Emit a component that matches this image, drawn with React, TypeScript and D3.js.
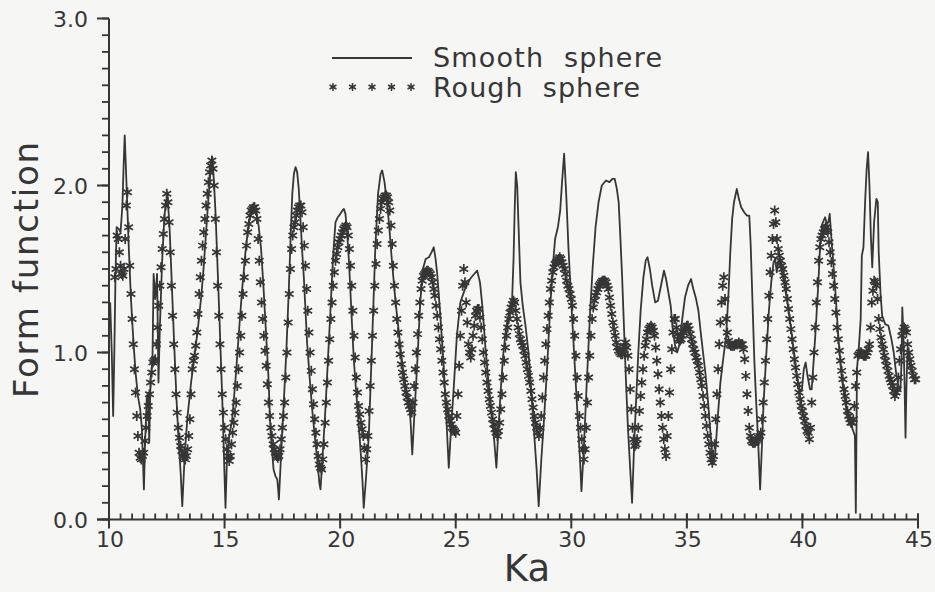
import React from "react";
import * as d3 from "d3";

// ---- data ----
const KA_TICKS = [10, 15, 20, 25, 30, 35, 40, 45];
const FF_TICKS = [0, 1, 2, 3];
const FF_TICK_LABELS = ["0.0", "1.0", "2.0", "3.0"];
const SERIES_NAMES = ["Smooth  sphere", "Rough  sphere"];

// Smooth sphere: [Ka, form function]
const smoothSphere: [number, number][] = [
  [10.05,1.30],[10.12,1.00],[10.18,0.62],[10.23,1.00],[10.28,1.45],[10.33,1.75],[10.42,1.74],[10.50,1.72],[10.58,1.88],[10.64,2.15],
  [10.68,2.30],[10.72,2.15],[10.78,1.92],[10.85,1.65],[10.95,1.32],[11.05,1.08],[11.15,0.88],[11.25,0.74],[11.35,0.66],[11.42,0.55],
  [11.47,0.35],[11.51,0.18],[11.56,0.45],[11.63,0.72],[11.69,0.76],[11.74,0.46],[11.80,0.85],[11.88,0.95],[11.93,1.47],[12.00,1.32],
  [12.08,1.47],[12.14,0.82],[12.20,1.15],[12.30,1.55],[12.40,1.82],[12.52,1.96],[12.62,1.75],[12.72,1.40],[12.82,1.05],[12.92,0.72],
  [13.02,0.45],[13.10,0.28],[13.17,0.08],[13.28,0.40],[13.40,0.62],[13.55,0.82],[13.70,0.98],[13.85,1.15],[14.00,1.35],[14.10,1.52],
  [14.20,1.72],[14.30,1.92],[14.40,2.10],[14.47,2.17],[14.55,2.00],[14.62,1.80],[14.70,1.50],[14.78,1.20],[14.86,0.88],[14.93,0.60],
  [14.99,0.30],[15.04,0.07],[15.10,0.35],[15.20,0.50],[15.33,0.60],[15.48,0.85],[15.62,1.12],[15.76,1.38],[15.91,1.61],[16.05,1.78],
  [16.15,1.85],[16.27,1.88],[16.38,1.85],[16.48,1.75],[16.58,1.62],[16.68,1.40],[16.78,1.15],[16.90,0.85],[16.98,0.55],[17.05,0.42],
  [17.12,0.30],[17.20,0.26],[17.28,0.24],[17.32,0.18],[17.35,0.12],[17.45,0.40],[17.56,0.70],[17.67,1.00],[17.78,1.38],[17.86,1.70],
  [17.93,1.95],[18.00,2.07],[18.07,2.11],[18.14,2.08],[18.21,1.98],[18.29,1.78],[18.36,1.60],[18.43,1.45],[18.57,1.06],[18.68,0.85],
  [18.79,0.66],[18.90,0.50],[19.01,0.36],[19.10,0.22],[19.15,0.18],[19.25,0.40],[19.37,0.68],[19.48,0.98],[19.58,1.25],[19.66,1.48],
  [19.73,1.65],[19.80,1.78],[19.90,1.81],[20.01,1.83],[20.10,1.85],[20.16,1.86],[20.23,1.83],[20.30,1.72],[20.38,1.55],[20.45,1.35],
  [20.52,1.15],[20.59,0.96],[20.70,0.75],[20.81,0.56],[20.90,0.38],[20.97,0.22],[21.02,0.07],[21.12,0.25],[21.24,0.50],[21.38,1.05],
  [21.52,1.62],[21.64,1.95],[21.75,2.07],[21.82,2.09],[21.92,2.02],[22.02,1.90],[22.11,1.78],[22.25,1.53],[22.40,1.30],[22.54,1.12],
  [22.70,0.92],[22.83,0.80],[22.97,0.72],[23.05,0.58],[23.12,0.39],[23.22,0.65],[23.33,0.92],[23.47,1.31],[23.58,1.50],[23.70,1.56],
  [23.84,1.57],[23.95,1.60],[24.05,1.63],[24.12,1.57],[24.20,1.47],[24.34,1.21],[24.48,0.92],[24.59,0.62],[24.70,0.31],[24.80,0.55],
  [24.92,0.80],[25.05,1.10],[25.20,1.30],[25.40,1.38],[25.62,1.44],[25.80,1.47],[25.93,1.49],[26.05,1.42],[26.15,1.28],[26.28,1.04],
  [26.40,0.85],[26.52,0.68],[26.65,0.50],[26.76,0.31],[26.85,0.55],[26.95,0.78],[27.05,0.98],[27.18,1.15],[27.32,1.25],[27.44,1.32],
  [27.50,1.55],[27.55,1.85],[27.60,2.08],[27.66,2.00],[27.72,1.75],[27.80,1.42],[27.90,1.28],[28.02,1.16],[28.15,1.00],[28.28,0.75],
  [28.40,0.50],[28.50,0.30],[28.59,0.08],[28.70,0.35],[28.82,0.60],[28.95,0.90],[29.08,1.25],[29.18,1.48],[29.30,1.68],[29.42,1.75],
  [29.52,1.85],[29.60,2.02],[29.69,2.19],[29.78,1.95],[29.88,1.62],[29.98,1.35],[30.10,1.05],[30.20,0.80],[30.30,0.55],[30.38,0.35],
  [30.44,0.17],[30.55,0.45],[30.68,0.85],[30.80,1.20],[30.92,1.50],[31.05,1.75],[31.18,1.90],[31.32,2.00],[31.50,2.03],[31.65,2.02],
  [31.78,2.04],[31.88,2.04],[31.97,1.98],[32.05,1.90],[32.12,1.70],[32.20,1.45],[32.28,1.15],[32.36,0.85],[32.45,0.55],[32.55,0.30],
  [32.63,0.10],[32.72,0.45],[32.80,0.70],[32.90,1.00],[33.00,1.25],[33.12,1.45],[33.22,1.55],[33.30,1.57],[33.40,1.50],[33.50,1.40],
  [33.63,1.30],[33.75,1.31],[33.88,1.40],[34.01,1.49],[34.10,1.44],[34.20,1.36],[34.30,1.28],[34.38,1.15],[34.48,1.05],[34.58,1.00],
  [34.68,1.05],[34.80,1.20],[34.92,1.33],[35.05,1.40],[35.18,1.44],[35.28,1.38],[35.40,1.32],[35.50,1.25],[35.60,1.12],[35.70,1.00],
  [35.80,0.88],[35.92,0.70],[36.02,0.52],[36.14,0.33],[36.22,0.38],[36.32,0.58],[36.45,0.82],[36.58,0.97],[36.70,1.10],[36.80,1.35],
  [36.88,1.60],[36.96,1.80],[37.04,1.90],[37.16,1.98],[37.25,1.92],[37.35,1.87],[37.48,1.84],[37.60,1.82],[37.70,1.82],[37.76,1.65],
  [37.84,1.30],[37.92,0.95],[38.00,0.70],[38.08,0.48],[38.17,0.18],[38.25,0.45],[38.32,0.70],[38.45,1.02],[38.55,1.25],[38.65,1.42],
  [38.75,1.54],[38.82,1.56],[38.89,1.48],[38.96,1.55],[39.05,1.52],[39.20,1.42],[39.35,1.30],[39.50,1.15],[39.62,1.02],[39.76,0.86],
  [39.90,0.77],[39.98,0.78],[40.06,0.90],[40.14,0.94],[40.22,0.86],[40.33,0.78],[40.40,0.78],[40.50,0.98],[40.60,1.20],[40.69,1.42],
  [40.77,1.65],[40.86,1.77],[40.98,1.81],[41.06,1.77],[41.12,1.78],[41.18,1.83],[41.27,1.65],[41.41,1.40],[41.56,1.08],[41.70,0.85],
  [41.85,0.70],[42.00,0.58],[42.15,0.55],[42.27,0.50],[42.31,0.04],[42.36,0.90],[42.45,1.05],[42.52,1.20],[42.57,1.58],[42.64,1.63],
  [42.72,1.93],[42.78,2.10],[42.84,2.20],[42.90,2.00],[42.96,1.70],[43.02,1.51],[43.10,1.78],[43.20,1.92],[43.26,1.90],[43.30,1.60],
  [43.38,1.35],[43.45,1.22],[43.58,1.17],[43.72,1.16],[43.85,1.08],[43.95,1.00],[44.05,0.88],[44.15,0.80],[44.24,0.78],[44.29,0.95],
  [44.32,1.27],[44.37,1.10],[44.42,0.80],[44.46,0.49],[44.50,0.80],[44.55,1.02],[44.65,0.92],[44.80,0.86],[44.92,0.86],
];

// Rough sphere: sampled every 0.05 in Ka, starting at Ka = 10.25
const roughKaStart = 10.25;
const roughKaStep = 0.05;
const roughSphere: number[] = [
  /*10*/ 1.45,1.50,1.70,1.68,1.60,1.52,1.47,1.46,1.50,1.68,1.88,1.96,1.75,1.52,1.35,
  /*11*/ 1.20,1.05,0.90,0.76,0.62,0.50,0.40,0.37,0.36,0.38,0.40,0.47,0.55,0.62,0.68,0.75,0.82,0.88,0.94,0.95,
  /*12*/ 0.96,1.05,1.15,1.28,1.40,1.51,1.62,1.71,1.80,1.88,1.95,1.90,1.78,1.60,1.40,1.22,1.05,0.90,0.75,0.64,
  /*13*/ 0.55,0.49,0.44,0.41,0.38,0.37,0.36,0.38,0.42,0.50,0.60,0.75,0.90,0.95,0.98,1.04,1.12,1.23,1.35,1.45,
  /*14*/ 1.55,1.64,1.72,1.80,1.88,1.95,2.02,2.08,2.12,2.15,2.10,2.00,1.80,1.60,1.40,1.22,1.05,0.90,0.75,0.64,
  /*15*/ 0.55,0.48,0.42,0.38,0.35,0.38,0.45,0.52,0.58,0.64,0.70,0.80,0.90,1.00,1.10,1.22,1.35,1.45,1.55,1.64,
  /*16*/ 1.72,1.77,1.82,1.85,1.86,1.87,1.87,1.85,1.80,1.68,1.55,1.42,1.30,1.20,1.10,1.01,0.92,0.81,0.70,0.62,
  /*17*/ 0.55,0.50,0.45,0.42,0.40,0.38,0.37,0.38,0.42,0.48,0.55,0.62,0.70,0.85,1.00,1.18,1.35,1.50,1.62,1.70,
  /*18*/ 1.75,1.78,1.82,1.85,1.87,1.88,1.88,1.84,1.75,1.64,1.52,1.38,1.25,1.12,1.00,0.89,0.78,0.69,0.60,0.52,
  /*19*/ 0.45,0.38,0.33,0.31,0.30,0.36,0.45,0.58,0.70,0.82,0.95,1.08,1.20,1.30,1.40,1.48,1.55,1.59,1.63,1.66,
  /*20*/ 1.68,1.70,1.72,1.74,1.75,1.76,1.75,1.70,1.62,1.52,1.40,1.25,1.10,0.97,0.85,0.76,0.68,0.63,0.58,0.54,
  /*21*/ 0.50,0.43,0.36,0.42,0.50,0.65,0.80,0.95,1.10,1.25,1.40,1.53,1.65,1.73,1.80,1.86,1.90,1.92,1.93,1.94,
  /*22*/ 1.94,1.93,1.90,1.85,1.76,1.65,1.52,1.40,1.30,1.20,1.12,1.05,0.99,0.93,0.88,0.84,0.80,0.76,0.73,0.70,
  /*23*/ 0.68,0.66,0.64,0.70,0.80,0.90,1.00,1.11,1.22,1.30,1.38,1.43,1.46,1.47,1.48,1.49,1.49,1.48,1.47,1.45,
  /*24*/ 1.42,1.38,1.34,1.28,1.22,1.15,1.08,1.02,0.95,0.88,0.82,0.75,0.70,0.66,0.62,0.59,0.57,0.55,0.54,0.53,
  /*25*/ 0.52,0.62,0.75,0.92,1.10,1.25,1.40,1.50,1.42,1.30,1.18,1.05,1.00,0.97,1.02,1.10,1.16,1.22,1.25,1.26,
  /*26*/ 1.26,1.21,1.15,1.08,1.00,0.94,0.88,0.82,0.77,0.72,0.68,0.64,0.60,0.57,0.54,0.52,0.50,0.53,0.58,0.66,
  /*27*/ 0.75,0.85,0.95,1.03,1.10,1.15,1.20,1.24,1.27,1.29,1.31,1.30,1.25,1.20,1.15,1.11,1.08,1.06,1.04,1.01,
  /*28*/ 0.98,0.94,0.90,0.86,0.82,0.77,0.72,0.67,0.62,0.58,0.55,0.52,0.50,0.55,0.62,0.73,0.85,0.95,1.05,1.14,
  /*29*/ 1.22,1.30,1.38,1.43,1.48,1.51,1.53,1.54,1.55,1.56,1.57,1.56,1.54,1.52,1.50,1.47,1.43,1.40,1.38,1.35,
  /*30*/ 1.32,1.28,1.20,1.10,0.98,0.85,0.74,0.62,0.55,0.48,0.42,0.36,0.42,0.55,0.70,0.85,0.98,1.10,1.20,1.27,
  /*31*/ 1.31,1.34,1.36,1.38,1.40,1.41,1.42,1.43,1.43,1.43,1.42,1.40,1.38,1.33,1.28,1.23,1.18,1.14,1.10,1.06,
  /*32*/ 1.03,1.01,1.00,0.99,0.99,1.01,1.04,1.06,1.03,0.98,0.90,0.78,0.66,0.55,0.48,0.44,0.45,0.48,0.55,0.65,
  /*33*/ 0.74,0.82,0.90,0.98,1.04,1.08,1.12,1.14,1.15,1.16,1.15,1.13,1.10,1.03,0.95,0.87,0.78,0.70,0.62,0.55,
  /*34*/ 0.48,0.42,0.38,0.50,0.62,0.76,0.90,1.02,1.12,1.20,1.20,1.15,1.11,1.08,1.07,1.08,1.10,1.12,1.14,1.15,
  /*35*/ 1.16,1.16,1.14,1.11,1.08,1.05,1.02,1.00,0.97,0.95,0.92,0.88,0.84,0.80,0.74,0.68,0.62,0.56,0.50,0.45,
  /*36*/ 0.40,0.36,0.34,0.38,0.45,0.60,0.75,0.90,1.05,1.18,1.30,1.40,1.45,1.32,1.20,1.12,1.07,1.05,1.04,1.04,
  /*37*/ 1.04,1.04,1.05,1.05,1.05,1.06,1.05,1.05,1.05,1.02,0.96,0.86,0.75,0.65,0.55,0.50,0.47,0.46,0.46,0.46,
  /*38*/ 0.47,0.48,0.49,0.50,0.52,0.60,0.70,0.82,0.95,1.08,1.20,1.34,1.48,1.58,1.68,1.77,1.85,1.78,1.68,1.62,
  /*39*/ 1.58,1.55,1.52,1.50,1.46,1.42,1.38,1.32,1.26,1.20,1.14,1.08,1.02,0.96,0.91,0.86,0.81,0.76,0.72,0.68,
  /*40*/ 0.65,0.62,0.59,0.56,0.53,0.52,0.48,0.55,0.70,0.85,1.00,1.15,1.30,1.42,1.55,1.63,1.68,1.70,1.72,1.74,
  /*41*/ 1.75,1.75,1.72,1.66,1.60,1.54,1.47,1.40,1.32,1.24,1.15,1.08,1.01,0.95,0.89,0.84,0.78,0.74,0.70,0.65,
  /*42*/ 0.62,0.60,0.58,0.58,0.60,0.68,0.80,0.88,0.98,0.99,1.00,1.00,0.99,0.98,0.98,0.98,1.00,1.02,1.05,1.15,
  /*43*/ 1.30,1.37,1.43,1.42,1.40,1.32,1.20,1.14,1.09,1.05,1.02,0.98,0.95,0.92,0.89,0.86,0.84,0.82,0.80,0.77,
  /*44*/ 0.74,0.76,0.78,0.85,0.95,1.02,1.10,1.13,1.15,1.14,1.12,1.05,1.00,0.96,0.92,0.89,0.86,0.84,0.84,
];

const INK = "#363636";
const FONT = "'DejaVu Sans', sans-serif";

function asteriskPath(r: number) {
  const a = r * Math.cos(Math.PI / 6);
  const b = r * Math.sin(Math.PI / 6);
  return `M0,${-r}L0,${r}M${-a},${-b}L${a},${b}M${-a},${b}L${a},${-b}`;
}

export default function App() {
  const W = 935, H = 592;
  const x = d3.scaleLinear().domain([10, 45]).range([109, 918]);
  const y = d3.scaleLinear().domain([0, 3]).range([519.5, 18.5]);

  const line = d3
    .line<[number, number]>()
    .x((d) => x(d[0]))
    .y((d) => y(d[1]));

  const roughPts = roughSphere.map((v, i) => [roughKaStart + i * roughKaStep, v] as [number, number]);
  const star = asteriskPath(5);

  const yMinor = y.ticks(30);
  const xMinor = x.ticks(70);

  return (
    <svg
      width={W}
      height={H}
      style={{ position: "fixed", left: 0, top: 0, background: "#f6f6f5" }}
      fontFamily={FONT}
    >
      <rect x={0} y={0} width={W} height={H} fill="#f6f6f5" />

      {/* y axis */}
      <line x1={x(10)} x2={x(10)} y1={y(3)} y2={y(0)} stroke={INK} strokeWidth={2} />
      {yMinor.map((t, i) => (
        <line key={"ym" + i} x1={x(10) - 7} x2={x(10)} y1={y(t)} y2={y(t)} stroke={INK} strokeWidth={1.8} />
      ))}
      {FF_TICKS.map((t, i) => (
        <g key={"yt" + i}>
          <line x1={x(10) - 12} x2={x(10)} y1={y(t)} y2={y(t)} stroke={INK} strokeWidth={2} />
          <text x={88} y={y(t) + 8} textAnchor="end" fontSize={22} fill={INK}>
            {FF_TICK_LABELS[i]}
          </text>
        </g>
      ))}

      {/* x axis */}
      <line x1={x(10) - 12} x2={x(45)} y1={y(0)} y2={y(0)} stroke={INK} strokeWidth={2} />
      {xMinor.map((t, i) => (
        <line key={"xm" + i} x1={x(t)} x2={x(t)} y1={y(0)} y2={y(0) - 6} stroke={INK} strokeWidth={1.8} />
      ))}
      {KA_TICKS.map((t, i) => (
        <g key={"xt" + i}>
          <line x1={x(t)} x2={x(t)} y1={y(0) - 6} y2={y(0) + 9} stroke={INK} strokeWidth={2} />
          <text x={x(t) + 1} y={547} textAnchor="middle" fontSize={22} fill={INK}>
            {t}
          </text>
        </g>
      ))}

      {/* axis titles */}
      <text x={527} y={581} textAnchor="middle" fontSize={37} fill={INK}>
        Ka
      </text>
      <text
        transform="translate(38,270) rotate(-90)"
        textAnchor="middle"
        fontSize={34}
        fill={INK}
        textLength={256}
        lengthAdjust="spacing"
      >
        Form function
      </text>

      {/* rough sphere markers */}
      <g stroke={INK} strokeWidth={1.7} fill="none">
        {roughPts.map((d, i) => (
          <path key={"r" + i} d={star} transform={`translate(${x(d[0])},${y(d[1])})`} />
        ))}
      </g>

      {/* smooth sphere line */}
      <path d={line(smoothSphere) || ""} fill="none" stroke={INK} strokeWidth={1.8} strokeLinejoin="round" />

      {/* legend */}
      <line x1={332} x2={412} y1={58} y2={58} stroke={INK} strokeWidth={2} />
      <text x={433} y={67} fontSize={27} fill={INK} textLength={229} lengthAdjust="spacing" style={{ whiteSpace: "pre" }}>
        {SERIES_NAMES[0]}
      </text>
      <g stroke={INK} strokeWidth={1.5} fill="none">
        {[0, 1, 2, 3, 4].map((k) => (
          <path key={"ls" + k} d={asteriskPath(4)} transform={`translate(${333 + k * 19.5},87)`} />
        ))}
      </g>
      <text x={433} y={97} fontSize={27} fill={INK} textLength={207} lengthAdjust="spacing" style={{ whiteSpace: "pre" }}>
        {SERIES_NAMES[1]}
      </text>
    </svg>
  );
}
